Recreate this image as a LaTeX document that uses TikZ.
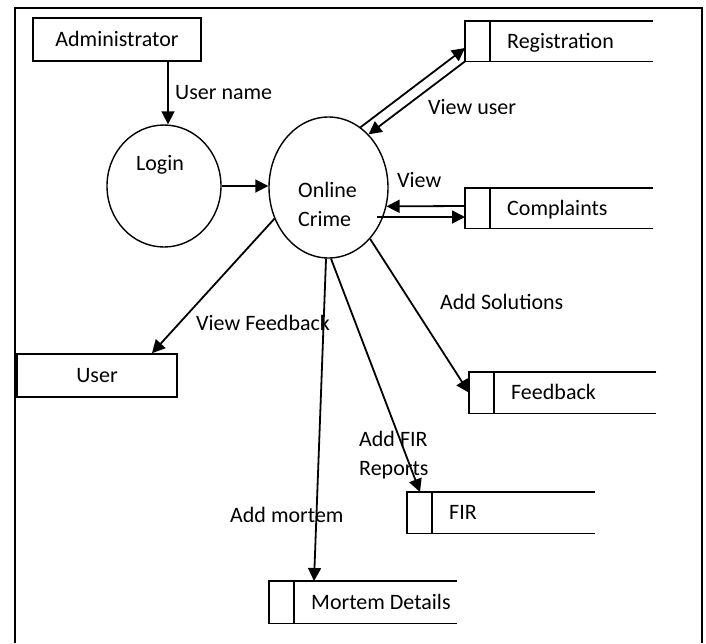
\documentclass[tikz,border=0pt]{standalone}
\usepackage{fontspec}
\setmainfont{Carlito}
\usetikzlibrary{shapes.geometric,arrows.meta}
\tikzset{
  lbl/.style={font=\fontsize{22}{26}\selectfont, anchor=west, inner sep=0pt, text height=14pt, text depth=0pt},
  ctr/.style={lbl, anchor=center},
  boxnode/.style={draw, rectangle, line width=1.6pt, inner sep=0pt},
  proc/.style={draw, ellipse, line width=1.4pt, inner sep=0pt},
  dstorebox/.style={rectangle, inner sep=0pt, anchor=north west},
  storeline/.style={line width=1.6pt},
  flow/.style={line width=1.8pt, -{Triangle[length=13pt,width=13pt]}},
}
\newcommand\dstore[6]{%
  \node[dstorebox, minimum width=#4pt, minimum height=#5pt] (#1) at (#2,#3) {};
  \draw[storeline] (#1.north east) -- (#1.north west) -- (#1.south west) -- (#1.south east);
  \draw[storeline] ([xshift=25pt]#1.north west) -- ([xshift=25pt]#1.south west);
  \node[lbl] (#1txt) at ([xshift=42pt]#1.west) {#6};
}
\begin{document}
\begin{tikzpicture}[x=1pt,y=-1pt]
\useasboundingbox (0,0) rectangle (706,643);
% frame
\draw[line width=2pt] (15,643) -- (15,8) -- (702,8) -- (702,643);

% entities
\node[boxnode, minimum width=168pt, minimum height=43pt] (admin) at (117,39.5) {};
\node[ctr] (admintxt) at (admin.center) {Administrator};
\node[boxnode, minimum width=160pt, minimum height=43pt] (user) at (97,375.5) {};
\node[ctr] (usertxt) at (user.center) {User};

% processes
\node[proc, minimum width=114pt, minimum height=122pt] (login) at (164,186) {};
\node[ctr] (logintxt) at (160,163) {Login};
\node[proc, minimum width=119pt, minimum height=141pt] (online) at (328.5,187.5) {};
\node[lbl] (onlinetxt1) at (298,190) {Online};
\node[lbl] (onlinetxt2) at (298,219) {Crime};

% data stores
\dstore{reg}{465}{21}{188}{40}{Registration}
\dstore{comp}{465}{188}{188}{40}{Complaints}
\dstore{feed}{469}{372}{187}{41}{Feedback}
\dstore{fir}{407}{492}{188}{41}{FIR}
\dstore{mort}{269}{581}{188}{42}{Mortem Details}

% flows
\draw[flow] (admin.south -| 168,0) -- (login.north -| 168,0);
\draw[flow] (login.east) -- (online.west |- login.east);
\draw[flow] (online.62) -- ([yshift=-27pt]reg.north west);
\draw[flow] (reg.south west) -- (online.53);
\draw[flow] ([yshift=-18pt]comp.north west) -- (online.-18);
\coordinate (compin) at (377,217);
\draw[flow] (compin) -- ([yshift=-29pt]comp.north west);
\draw[flow] (online.210) -- ([xshift=55pt]user.north);
\draw[flow] (online.-51) -- (feed.west);
\draw[flow] (online.-88) -- ([xshift=13pt]fir.north west);
\draw[flow] (online.-92) -- ([xshift=45pt]mort.north west);

% flow labels
\node[lbl] (l1) at (175,92) {User name};
\node[lbl] (l2) at (428,107) {View user};
\node[lbl] (l3) at (397,180) {View};
\node[lbl] (l4) at (196,323) {View Feedback};
\node[lbl] (l5) at (440,302) {Add Solutions};
\node[lbl] (l6) at (359,439) {Add FIR};
\node[lbl] (l7) at (359,468) {Reports};
\node[lbl] (l8) at (230,515) {Add mortem};
\end{tikzpicture}
\end{document}
